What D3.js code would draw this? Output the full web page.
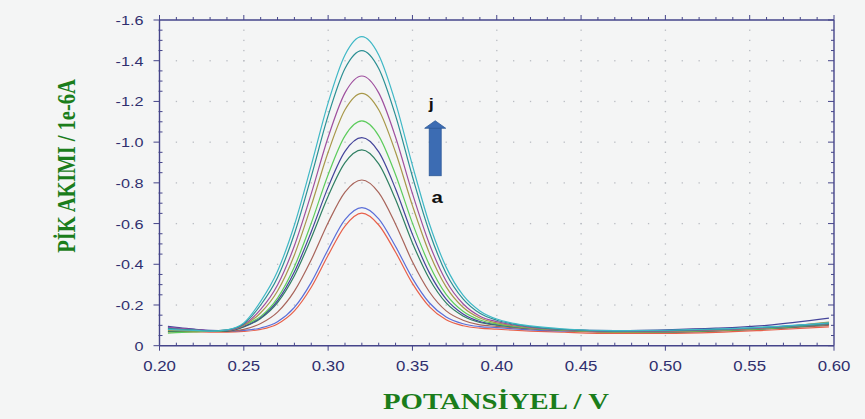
<!DOCTYPE html>
<html>
<head>
<meta charset="utf-8">
<script src="https://cdn.jsdelivr.net/npm/d3@7"></script>
<style>
  html, body { margin: 0; padding: 0; background: #f4f5f5; }
  svg { display: block; }
</style>
</head>
<body>
<svg id="chart" width="865" height="419"></svg>
<script>
// Potential axis (V) shared by every voltammogram
const potentials = [0.205, 0.21, 0.22, 0.23, 0.24, 0.25, 0.26, 0.27, 0.28, 0.29, 0.30, 0.31, 0.32,
  0.33, 0.34, 0.35, 0.36, 0.37, 0.38, 0.39, 0.40, 0.41, 0.42, 0.44, 0.47, 0.50, 0.53, 0.56, 0.597];

// Peak current (1e-6 A) for curves a..j
const curveA = [-0.068, -0.068, -0.068, -0.067, -0.067, -0.070, -0.080, -0.107, -0.171, -0.287, -0.444, -0.588, -0.651,
  -0.593, -0.459, -0.306, -0.192, -0.127, -0.098, -0.086, -0.081, -0.076, -0.072, -0.066, -0.060, -0.060, -0.065, -0.076, -0.092];
const curveB = [-0.088, -0.085, -0.080, -0.074, -0.070, -0.075, -0.087, -0.118, -0.188, -0.311, -0.473, -0.619, -0.678,
  -0.623, -0.487, -0.331, -0.211, -0.141, -0.108, -0.094, -0.089, -0.083, -0.078, -0.072, -0.070, -0.072, -0.078, -0.090, -0.112];
const curveC = [-0.080, -0.078, -0.075, -0.072, -0.070, -0.080, -0.109, -0.165, -0.268, -0.422, -0.604, -0.755, -0.814,
  -0.752, -0.597, -0.412, -0.265, -0.171, -0.125, -0.102, -0.095, -0.088, -0.082, -0.074, -0.066, -0.066, -0.072, -0.082, -0.100];
const curveD = [-0.070, -0.070, -0.070, -0.070, -0.072, -0.092, -0.134, -0.212, -0.344, -0.529, -0.734, -0.899, -0.962,
  -0.893, -0.718, -0.505, -0.329, -0.210, -0.146, -0.114, -0.101, -0.092, -0.085, -0.076, -0.068, -0.068, -0.074, -0.084, -0.105];
const curveE = [-0.095, -0.090, -0.082, -0.075, -0.074, -0.095, -0.138, -0.221, -0.363, -0.560, -0.779, -0.955, -1.022,
  -0.952, -0.770, -0.547, -0.359, -0.229, -0.156, -0.119, -0.104, -0.094, -0.086, -0.078, -0.074, -0.078, -0.086, -0.100, -0.135];
const curveF = [-0.062, -0.064, -0.068, -0.071, -0.076, -0.100, -0.144, -0.234, -0.388, -0.602, -0.840, -1.031, -1.104,
  -1.031, -0.840, -0.602, -0.398, -0.252, -0.169, -0.126, -0.107, -0.095, -0.086, -0.076, -0.068, -0.069, -0.075, -0.085, -0.110];
const curveG = [-0.075, -0.074, -0.073, -0.072, -0.075, -0.100, -0.162, -0.269, -0.446, -0.688, -0.950, -1.159, -1.240,
  -1.159, -0.950, -0.688, -0.456, -0.289, -0.189, -0.136, -0.112, -0.098, -0.088, -0.078, -0.068, -0.070, -0.076, -0.087, -0.116];
const curveH = [-0.090, -0.086, -0.080, -0.074, -0.076, -0.104, -0.178, -0.298, -0.491, -0.747, -1.024, -1.242, -1.325,
  -1.242, -1.024, -0.747, -0.501, -0.318, -0.206, -0.145, -0.118, -0.102, -0.090, -0.079, -0.070, -0.072, -0.078, -0.088, -0.108];
const curveI = [-0.085, -0.082, -0.078, -0.073, -0.078, -0.108, -0.200, -0.335, -0.550, -0.831, -1.130, -1.362, -1.450,
  -1.362, -1.130, -0.831, -0.560, -0.355, -0.230, -0.159, -0.125, -0.106, -0.094, -0.080, -0.072, -0.074, -0.080, -0.090, -0.110];
const curveJ = [-0.080, -0.078, -0.075, -0.072, -0.078, -0.112, -0.218, -0.366, -0.593, -0.886, -1.193, -1.428, -1.518,
  -1.428, -1.193, -0.886, -0.600, -0.386, -0.248, -0.171, -0.131, -0.110, -0.097, -0.082, -0.074, -0.076, -0.082, -0.092, -0.112];

const seriesNames = ["a", "b", "c", "d", "e", "f", "g", "h", "i", "j"];
const seriesValues = [curveA, curveB, curveC, curveD, curveE, curveF, curveG, curveH, curveI, curveJ];
const seriesColors = ["#e8604a", "#5a6ed8", "#a8645a", "#2f7f62", "#44449a",
  "#5ccc5c", "#a8984a", "#9e4f9e", "#2b8f93", "#3fb8c6"];

// Axis ticks
const xTicks = [0.20, 0.25, 0.30, 0.35, 0.40, 0.45, 0.50, 0.55, 0.60];
const yTicks = [-1.6, -1.4, -1.2, -1.0, -0.8, -0.6, -0.4, -0.2, 0];

const xTitle = "POTANSİYEL / V";
const yTitle = "PİK AKIMI / 1e-6A";

const svg = d3.select("#chart");
const axisColor = "#45458a";
const labelColor = "#2f2f6e";
const stretch = 1.2; // text in this chart is drawn slightly wide

const x = d3.scaleLinear().domain([0.2, 0.6]).range([159.5, 834]);
const y = d3.scaleLinear().domain([-1.6, 0]).range([20, 345.7]);

const [x0, x1] = x.range();
const [y1, y0] = [y(-1.6), y(0)];

// minor tick positions
const xMinor = d3.range(0, 41).map(i => +(0.2 + i * 0.01).toFixed(3));
const yMinor = d3.range(0, 33).map(i => +(-1.6 + i * 0.05).toFixed(3));

// dotted grid: dots on major lines at each minor step
const grid = svg.append("g").attr("fill", "#b9bcc2");
xTicks.slice(1, -1).forEach(xv => {
  yMinor.slice(1, -1).forEach(yv => {
    grid.append("rect").attr("x", x(xv) - 0.6).attr("y", y(yv) - 0.6).attr("width", 1.3).attr("height", 1.3);
  });
});
yTicks.slice(1, -1).forEach(yv => {
  xMinor.slice(1, -1).forEach(xv => {
    grid.append("rect").attr("x", x(xv) - 0.6).attr("y", y(yv) - 0.6).attr("width", 1.3).attr("height", 1.3);
  });
});

// curves
const line = d3.line()
  .x((d, i) => x(potentials[i]))
  .y(d => y(d))
  .curve(d3.curveMonotoneX);

svg.append("g").selectAll("path")
  .data(seriesValues)
  .join("path")
  .attr("d", d => line(d))
  .attr("fill", "none")
  .attr("stroke", (d, i) => seriesColors[i])
  .attr("stroke-width", 1.2);

// frame
const frame = svg.append("g").attr("stroke", axisColor).attr("stroke-width", 1.4).attr("fill", "none");
frame.append("line").attr("x1", x0).attr("x2", x0).attr("y1", y1).attr("y2", y0);
frame.append("line").attr("x1", x1).attr("x2", x1).attr("y1", y1).attr("y2", y0);
frame.append("line").attr("x1", x0).attr("x2", x1).attr("y1", y0).attr("y2", y0);
frame.append("line").attr("x1", x0).attr("x2", x1).attr("y1", y1).attr("y2", y1);

// tick marks
const ticks = svg.append("g").attr("stroke", axisColor).attr("stroke-width", 1);
const isMajorX = v => xTicks.some(t => Math.abs(t - v) < 1e-6);
const isMajorY = v => yTicks.some(t => Math.abs(t - v) < 1e-6);
xMinor.forEach(v => {
  const major = isMajorX(v);
  // bottom
  ticks.append("line").attr("x1", x(v)).attr("x2", x(v))
    .attr("y1", major ? y0 + 5 : y0 - 3).attr("y2", y0);
  // top
  ticks.append("line").attr("x1", x(v)).attr("x2", x(v))
    .attr("y1", y1 - (major ? 5 : 3)).attr("y2", y1);
});
yMinor.forEach(v => {
  const major = isMajorY(v);
  // left
  ticks.append("line").attr("y1", y(v)).attr("y2", y(v))
    .attr("x1", major ? x0 - 6 : x0 - 1).attr("x2", major ? x0 : x0 + 3);
  // right
  ticks.append("line").attr("y1", y(v)).attr("y2", y(v))
    .attr("x1", x1 - (major ? 6 : 3)).attr("x2", x1);
});

// tick labels
const tickFont = "'Liberation Sans', Arial, sans-serif";
svg.append("g").selectAll("text")
  .data(xTicks)
  .join("text")
  .attr("transform", d => `translate(${x(d)},${y0 + 25}) scale(${stretch},1)`)
  .attr("text-anchor", "middle")
  .attr("font-family", tickFont)
  .attr("font-size", 14)
  .attr("fill", labelColor)
  .text(d => d.toFixed(2));

svg.append("g").selectAll("text")
  .data(yTicks)
  .join("text")
  .attr("transform", d => `translate(${x0 - 16},${y(d) + 5}) scale(${stretch},1)`)
  .attr("text-anchor", "end")
  .attr("font-family", tickFont)
  .attr("font-size", 13.5)
  .attr("fill", labelColor)
  .text(d => d === 0 ? "0" : d.toFixed(1));

// axis titles
const titleFont = "'Liberation Serif', 'Times New Roman', serif";
svg.append("text")
  .attr("transform", `translate(496,409) scale(${stretch},1)`)
  .attr("text-anchor", "middle")
  .attr("font-family", titleFont)
  .attr("font-weight", "bold")
  .attr("font-size", 24)
  .attr("fill", "#1b7d1b")
  .text(xTitle);

svg.append("text")
  .attr("transform", `translate(75,166) scale(${stretch},1) rotate(-90)`)
  .attr("text-anchor", "middle")
  .attr("font-family", titleFont)
  .attr("font-weight", "bold")
  .attr("font-size", 20.5)
  .attr("fill", "#1b7d1b")
  .text(yTitle);

// growth arrow from a to j
const arrowX = x(0.3635);
const arrowTop = y(-1.105);
const arrowBottom = y(-0.835);
const arrow = svg.append("g");
arrow.append("rect")
  .attr("x", arrowX - 6).attr("y", arrowTop + 7)
  .attr("width", 12).attr("height", arrowBottom - arrowTop - 7)
  .attr("fill", "#3c6cb3").attr("stroke", "#2d5a98").attr("stroke-width", 0.8);
arrow.append("path")
  .attr("d", `M${arrowX - 10.5},${arrowTop + 7.5} L${arrowX + 10.5},${arrowTop + 7.5} L${arrowX},${arrowTop} Z`)
  .attr("fill", "#3c6cb3").attr("stroke", "#2d5a98").attr("stroke-width", 0.8);

svg.append("text")
  .attr("transform", `translate(${arrowX - 4},${arrowTop - 12}) scale(${stretch},1)`)
  .attr("text-anchor", "middle")
  .attr("font-family", tickFont).attr("font-weight", "bold").attr("font-size", 15)
  .attr("fill", "#111").text(seriesNames[9]);
svg.append("text")
  .attr("transform", `translate(${arrowX + 2},${arrowBottom + 27}) scale(${stretch},1)`)
  .attr("text-anchor", "middle")
  .attr("font-family", tickFont).attr("font-weight", "bold").attr("font-size", 17)
  .attr("fill", "#111").text(seriesNames[0]);
</script>
</body>
</html>
